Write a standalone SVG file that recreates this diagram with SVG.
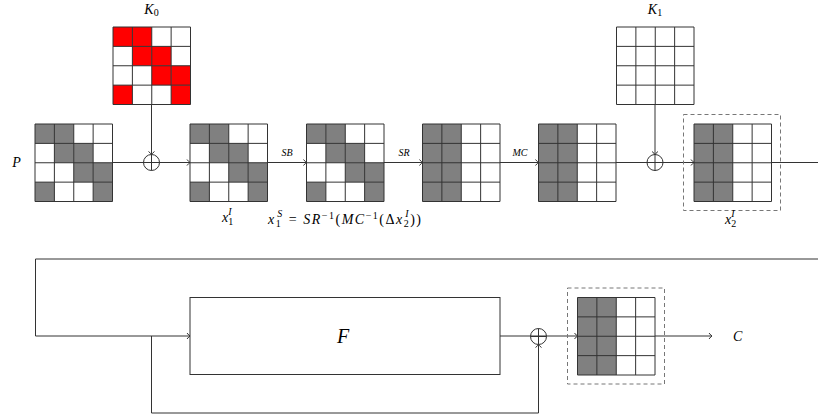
<svg xmlns="http://www.w3.org/2000/svg" xmlns:xlink="http://www.w3.org/1999/xlink" width="818" height="416" viewBox="0 0 818 416">
<style>
.g{fill:#808080}
.r{fill:#ff0000}
.w{fill:#ffffff}
.gl{fill:none;stroke:#333;stroke-width:1}
.ln{fill:none;stroke:#333;stroke-width:1}
.dash{fill:none;stroke:#777;stroke-width:1;stroke-dasharray:4 3}
text{font-family:'Liberation Serif','DejaVu Serif',serif;font-style:italic;font-weight:normal;fill:#000}
.u{font-style:normal}
.sm{font-size:10px}
</style>
<defs>
<marker id="ar" markerUnits="userSpaceOnUse" markerWidth="8" markerHeight="8" viewBox="-4 -4 8 8" refX="0" refY="0" orient="auto">
<path d="M-3,-3 Q-1,-0.5 0,0 Q-1,0.5 -3,3" fill="none" stroke="#333" stroke-width="1"/>
</marker>
<path id="grid" class="gl" d="M0 0H77.5V77.5H0Z M19.375 0V77.5 M38.75 0V77.5 M58.125 0V77.5 M0 19.375H77.5 M0 38.75H77.5 M0 58.125H77.5"/>
<g id="diag">
<rect x="0" y="0" width="19.375" height="19.375"/>
<rect x="19.375" y="0" width="19.375" height="19.375"/>
<rect x="19.375" y="19.375" width="19.375" height="19.375"/>
<rect x="38.75" y="19.375" width="19.375" height="19.375"/>
<rect x="38.75" y="38.75" width="19.375" height="19.375"/>
<rect x="58.125" y="38.75" width="19.375" height="19.375"/>
<rect x="0" y="58.125" width="19.375" height="19.375"/>
<rect x="58.125" y="58.125" width="19.375" height="19.375"/>
</g>
<g id="cols">
<rect x="0" y="0" width="38.75" height="77.5"/>
</g>
</defs>

<g id="connectors">
<path class="ln" d="M113 162.5H190" marker-end="url(#ar)"/>
<path class="ln" d="M267.5 162.5H306.5" marker-end="url(#ar)"/>
<path class="ln" d="M384 162.5H422.5" marker-end="url(#ar)"/>
<path class="ln" d="M500 162.5H538.5" marker-end="url(#ar)"/>
<path class="ln" d="M616 162.5H694" marker-end="url(#ar)"/>
<path class="ln" d="M771.5 162.5H818"/>
<path class="ln" d="M151.5 104.5V154.5" marker-end="url(#ar)"/>
<path class="ln" d="M655 104.5V154.5" marker-end="url(#ar)"/>
<path class="ln" d="M818 259H35.5V336H190" marker-end="url(#ar)"/>
<path class="ln" d="M151.5 336V413H538.5V344.5" marker-end="url(#ar)"/>
<path class="ln" d="M500 336H577.5" marker-end="url(#ar)"/>
<path class="ln" d="M655 336H712" marker-end="url(#ar)"/>
</g>

<g id="K0">
<rect x="113" y="27" width="77.5" height="77.5" class="w"/>
<use xlink:href="#diag" x="113" y="27" class="r"/>
<use xlink:href="#grid" x="113" y="27"/>
<text x="151.5" y="14" font-size="14" text-anchor="middle">K<tspan class="u" font-size="10" dy="2">0</tspan></text>
</g>

<g id="K1">
<rect x="616.5" y="27" width="77.5" height="77.5" class="w"/>
<use xlink:href="#grid" x="616.5" y="27"/>
<text x="655" y="14" font-size="14" text-anchor="middle">K<tspan class="u" font-size="10" dy="2">1</tspan></text>
</g>

<g id="P">
<use xlink:href="#diag" x="35" y="124" class="g"/>
<use xlink:href="#grid" x="35" y="124"/>
<text x="16.5" y="167" font-size="14" text-anchor="middle">P</text>
</g>

<g id="xor1">
<circle cx="151.5" cy="162.5" r="8" fill="none" stroke="#333"/>
<path class="ln" d="M151.5 154.5V170.5M143.5 162.5H159.5"/>
</g>

<g id="x1I">
<use xlink:href="#diag" x="190" y="124" class="g"/>
<use xlink:href="#grid" x="190" y="124"/>
<text x="222" y="222" font-size="14">x<tspan class="u" font-size="10" dy="3">1</tspan><tspan font-size="10" dx="-5" dy="-10">I</tspan></text>
</g>

<g id="sb">
<use xlink:href="#diag" x="306.5" y="124" class="g"/>
<use xlink:href="#grid" x="306.5" y="124"/>
<text class="sm" x="287" y="156" text-anchor="middle">SB</text>
</g>

<g id="sr">
<use xlink:href="#cols" x="422.5" y="124" class="g"/>
<use xlink:href="#grid" x="422.5" y="124"/>
<text class="sm" x="404" y="156" text-anchor="middle">SR</text>
</g>

<g id="mc">
<use xlink:href="#cols" x="538.5" y="124" class="g"/>
<use xlink:href="#grid" x="538.5" y="124"/>
<text class="sm" x="520" y="156" text-anchor="middle">MC</text>
</g>

<g id="xor2">
<circle cx="655" cy="162.5" r="8" fill="none" stroke="#333"/>
<path class="ln" d="M655 154.5V170.5M647 162.5H663"/>
</g>

<g id="x2I">
<rect class="dash" x="683.5" y="114.5" width="97" height="96"/>
<use xlink:href="#cols" x="694" y="124" class="g"/>
<use xlink:href="#grid" x="694" y="124"/>
<text x="725" y="224" font-size="14">x<tspan class="u" font-size="10" dy="3">2</tspan><tspan font-size="10" dx="-5" dy="-10">I</tspan></text>
</g>

<g id="formula">
<text x="268" y="224" font-size="14" textLength="153" lengthAdjust="spacing">x<tspan class="u" font-size="10" dy="3">1</tspan><tspan font-size="10" dx="-5" dy="-10">S</tspan><tspan class="u" dy="7"> = </tspan>SR<tspan class="u" font-size="10" dy="-5">−1</tspan><tspan class="u" dy="5">(</tspan>MC<tspan class="u" font-size="10" dy="-5">−1</tspan><tspan class="u" dy="5">(Δ</tspan>x<tspan class="u" font-size="10" dy="3">2</tspan><tspan font-size="10" dx="-5" dy="-10">I</tspan><tspan class="u" dy="7">))</tspan></text>
</g>

<g id="F">
<rect x="190" y="297.5" width="310" height="77" fill="#fff" stroke="#333"/>
<text x="343" y="343" font-size="20" text-anchor="middle">F</text>
</g>

<g id="xor3">
<circle cx="538.5" cy="336.5" r="8" fill="none" stroke="#333"/>
<path class="ln" d="M538.5 328.5V344.5M530.5 336.5H546.5"/>
</g>

<g id="out">
<rect class="dash" x="567.5" y="288" width="97" height="96"/>
<use xlink:href="#cols" x="577.5" y="297.5" class="g"/>
<use xlink:href="#grid" x="577.5" y="297.5"/>
</g>

<g id="C">
<text x="733" y="341" font-size="14">C</text>
</g>
</svg>
